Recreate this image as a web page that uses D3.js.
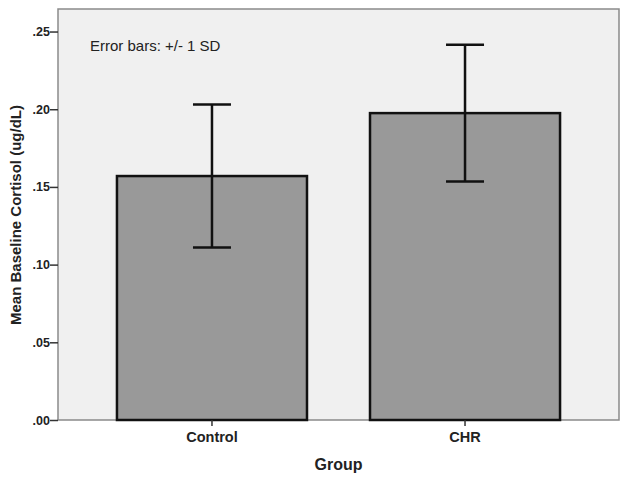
<!DOCTYPE html>
<html>
<head>
<meta charset="utf-8">
<script src="https://cdn.jsdelivr.net/npm/d3@7"></script>
<style>
  body { margin: 0; background: #fff; }
  text { font-family: "Liberation Sans", Arial, sans-serif; }
</style>
</head>
<body>
<svg id="chart" width="629" height="481"></svg>
<script>
var groups = ["Control", "CHR"];
var means = [0.157, 0.1975];
var sds = [0.046, 0.044];
var yTicks = [0, 0.05, 0.10, 0.15, 0.20, 0.25];

var svg = d3.select("#chart"),
    margin = {top: 9, right: 10, bottom: 61, left: 58},
    width = +svg.attr("width") - margin.left - margin.right,
    height = +svg.attr("height") - margin.top - margin.bottom,
    g = svg.append("g").attr("transform", "translate(" + margin.left + "," + margin.top + ")");

var x = d3.scaleBand()
    .domain(groups)
    .range([0, width])
    .paddingInner(0.249)
    .paddingOuter(0.233);

var y = d3.scaleLinear()
    .domain([0, 0.2645])
    .range([height, 0]);

// plot background
g.append("rect")
    .attr("width", width)
    .attr("height", height)
    .attr("fill", "#f0f0f0")
    .attr("stroke", "#8a8a8a")
    .attr("stroke-width", 1.5);

g.append("text")
    .attr("x", 32)
    .attr("y", 42)
    .attr("font-size", 15)
    .attr("fill", "#222")
    .text("Error bars: +/- 1 SD");

// bars
g.selectAll(".bar")
    .data(groups)
  .enter().append("rect")
    .attr("class", "bar")
    .attr("x", function(d) { return x(d); })
    .attr("y", function(d, i) { return y(means[i]); })
    .attr("width", x.bandwidth())
    .attr("height", function(d, i) { return height - y(means[i]); })
    .attr("fill", "#999999")
    .attr("stroke", "#111")
    .attr("stroke-width", 2.5);

// error bars
var err = g.selectAll(".err")
    .data(groups)
  .enter().append("g")
    .attr("class", "err")
    .attr("stroke", "#111")
    .attr("stroke-width", 2.5);

err.append("line")
    .attr("x1", function(d) { return x(d) + x.bandwidth() / 2; })
    .attr("x2", function(d) { return x(d) + x.bandwidth() / 2; })
    .attr("y1", function(d, i) { return y(means[i] - sds[i]); })
    .attr("y2", function(d, i) { return y(means[i] + sds[i]); });

[-1, 1].forEach(function(s) {
  err.append("line")
      .attr("x1", function(d) { return x(d) + x.bandwidth() / 2 - 19; })
      .attr("x2", function(d) { return x(d) + x.bandwidth() / 2 + 19; })
      .attr("y1", function(d, i) { return y(means[i] + s * sds[i]); })
      .attr("y2", function(d, i) { return y(means[i] + s * sds[i]); });
});

// axes
var yAxis = g.append("g")
    .call(d3.axisLeft(y).tickValues(yTicks).tickSize(8).tickSizeOuter(0)
      .tickFormat(function(d) { return d3.format(".2f")(d).replace(/^0/, ""); }));
yAxis.select(".domain").remove();
yAxis.selectAll("line").attr("stroke", "#333").attr("stroke-width", 1.5);
yAxis.selectAll("text")
    .attr("font-size", 12.5)
    .attr("font-weight", "bold")
    .attr("fill", "#222")
    .attr("x", -8);

var xAxis = g.append("g")
    .attr("transform", "translate(0," + height + ")")
    .call(d3.axisBottom(x).tickSize(6).tickSizeOuter(0));
xAxis.select(".domain").remove();
xAxis.selectAll("line").attr("stroke", "#333").attr("stroke-width", 1.5);
xAxis.selectAll("text")
    .attr("font-size", 14.5)
    .attr("font-weight", "bold")
    .attr("fill", "#222")
    .attr("y", 12);

svg.append("text")
    .attr("x", margin.left + width / 2)
    .attr("y", 470)
    .attr("text-anchor", "middle")
    .attr("font-size", 16)
    .attr("font-weight", "bold")
    .attr("fill", "#222")
    .text("Group");

svg.append("text")
    .attr("transform", "translate(21," + 215 + ") rotate(-90)")
    .attr("text-anchor", "middle")
    .attr("font-size", 15)
    .attr("font-weight", "bold")
    .attr("fill", "#222")
    .text("Mean Baseline Cortisol (ug/dL)");
</script>
</body>
</html>
